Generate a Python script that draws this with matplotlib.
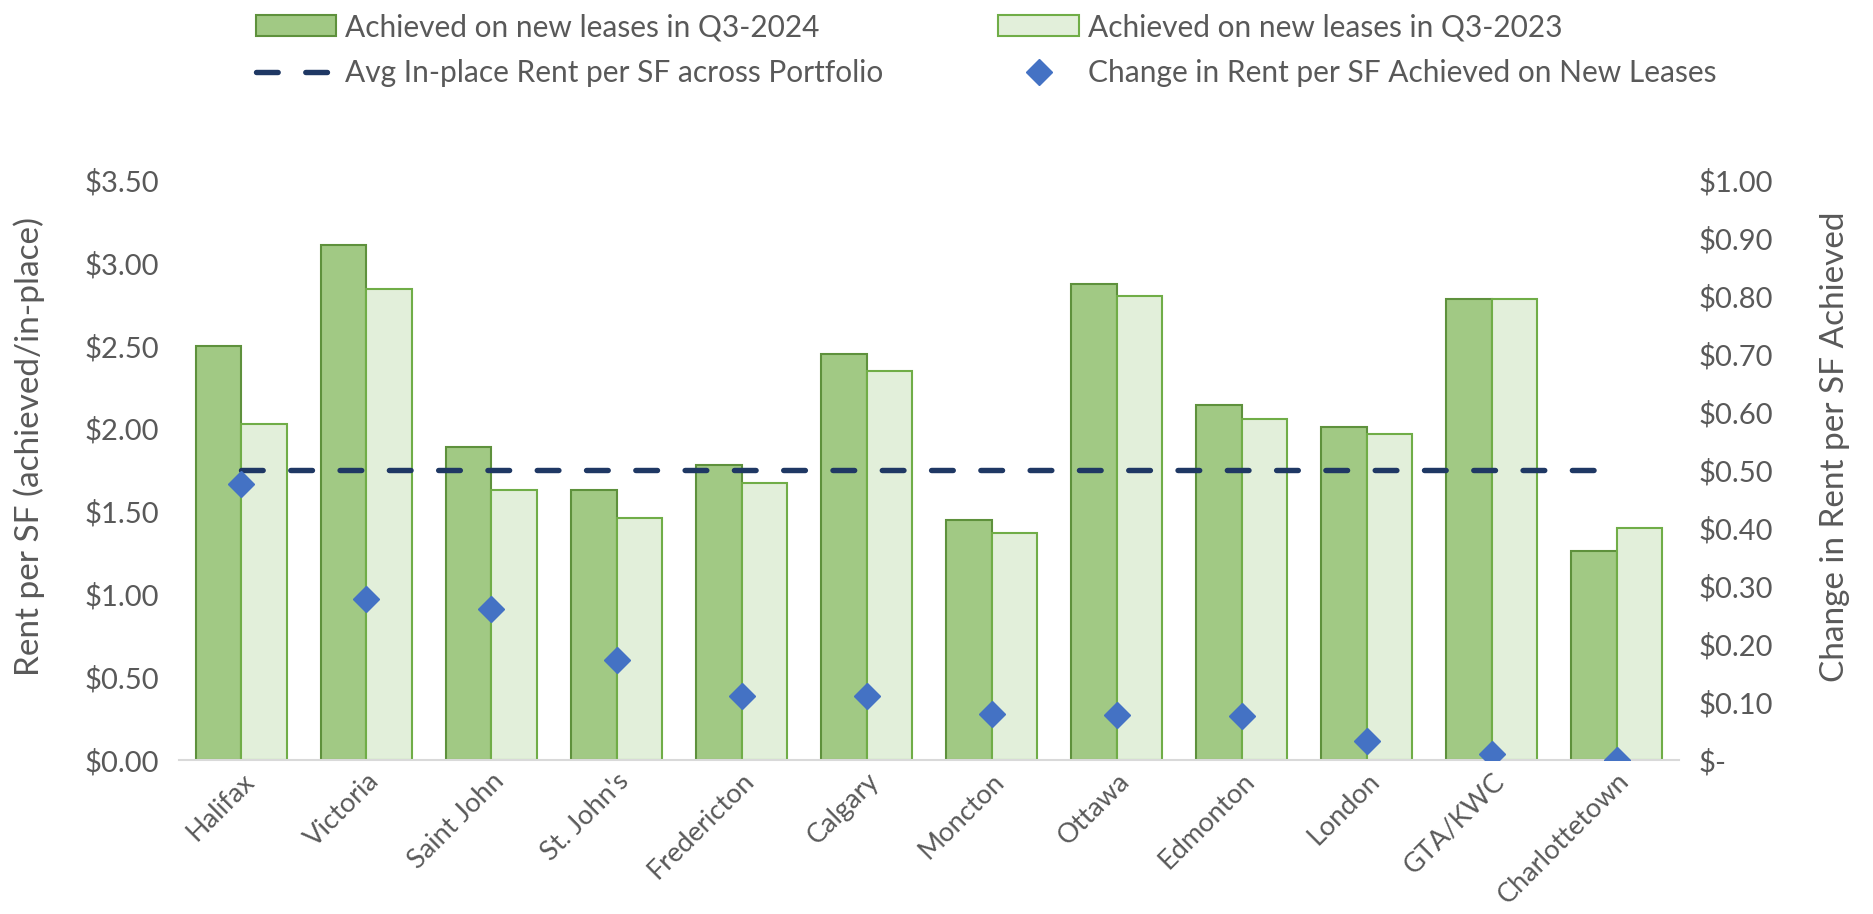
import numpy as np
import matplotlib
matplotlib.use("Agg")
import matplotlib.pyplot as plt
from matplotlib.ticker import FuncFormatter

plt.rcParams['font.family'] = ['Lato', 'DejaVu Sans']

cities = ['Halifax', 'Victoria', 'Saint John', "St. John's", 'Fredericton', 'Calgary',
          'Moncton', 'Ottawa', 'Edmonton', 'London', 'GTA/KWC', 'Charlottetown']
rent_2024 = [2.50, 3.11, 1.89, 1.63, 1.78, 2.45, 1.45, 2.87, 2.14, 2.01, 2.78, 1.26]
rent_2023 = [2.03, 2.84, 1.63, 1.46, 1.67, 2.35, 1.37, 2.80, 2.06, 1.97, 2.78, 1.40]
avg_inplace = [1.75] * 12
change = [0.476, 0.278, 0.260, 0.173, 0.111, 0.111, 0.080, 0.078, 0.076, 0.033, 0.010, 0.000]

grey = '#595959'
fig = plt.figure(figsize=(18.74, 9.14), dpi=100)
ax = fig.add_axes([0.0955, 0.1685, 0.8005, 0.6345])
ax2 = ax.twinx()

x = np.arange(len(cities))
w = 0.365
b1 = ax.bar(x - w / 2, rent_2024, w, color='#A1C984', edgecolor='#5E913C', linewidth=1.5,
            label='Achieved on new leases in Q3-2024', zorder=2)
b2 = ax.bar(x + w / 2, rent_2023, w, color='#E2EFDA', edgecolor='#70AD47', linewidth=1.5,
            label='Achieved on new leases in Q3-2023', zorder=2)
ln, = ax.plot(x, avg_inplace, color='#1F3864', linewidth=3.9, dashes=(4, 5.1),
              dash_capstyle='round', label='Avg In-place Rent per SF across Portfolio', zorder=3)
dm, = ax2.plot(x, change, linestyle='none', marker='D', markersize=13, color='#4472C4',
               label='Change in Rent per SF Achieved on New Leases', zorder=4)

ax.set_xlim(-0.5, len(cities) - 0.5)
ax.set_ylim(0, 3.5)
ax.set_yticks(np.arange(0, 3.51, 0.5))
ax2.set_ylim(0, 1.0)
ax2.set_yticks(np.arange(0, 1.001, 0.1))
ax.yaxis.set_major_formatter(FuncFormatter(lambda v, p: f'${v:.2f}'))
ax2.yaxis.set_major_formatter(FuncFormatter(lambda v, p: '$-' if abs(v) < 1e-9 else f'${v:.2f}'))

ax.set_xticks(x)
ax.set_xticklabels(cities, rotation=45, ha='right', rotation_mode='anchor')

for a in (ax, ax2):
    for s in ['top', 'left', 'right']:
        a.spines[s].set_visible(False)
    a.tick_params(axis='both', length=0, labelsize=21, labelcolor=grey)
ax2.spines['bottom'].set_visible(False)
ax.spines['bottom'].set_color('#D9D9D9')
ax.spines['bottom'].set_linewidth(1.5)
ax.tick_params(axis='y', pad=14)
ax.tick_params(axis='x', pad=6, labelsize=19.5)
ax2.tick_params(axis='y', pad=14)

ax.set_ylabel('Rent per SF (achieved/in-place)', fontsize=24, color=grey, labelpad=29)
ax2.set_ylabel('Change in Rent per SF Achieved', fontsize=24, color=grey, labelpad=34)
ax.yaxis.label.set_y(0.54)
ax2.yaxis.label.set_y(0.54)

ax2.patch.set_visible(False)

fig.legend([b1, ln, b2, dm],
           [b1.get_label(), ln.get_label(), b2.get_label(), dm.get_label()],
           ncol=2, loc='upper left', bbox_to_anchor=(0.122, 1.015), frameon=False,
           fontsize=21.5, labelcolor=grey, handlelength=2.7, handletextpad=0.3,
           columnspacing=3.85, labelspacing=0.6)

fig.savefig('out.png', dpi=100)
